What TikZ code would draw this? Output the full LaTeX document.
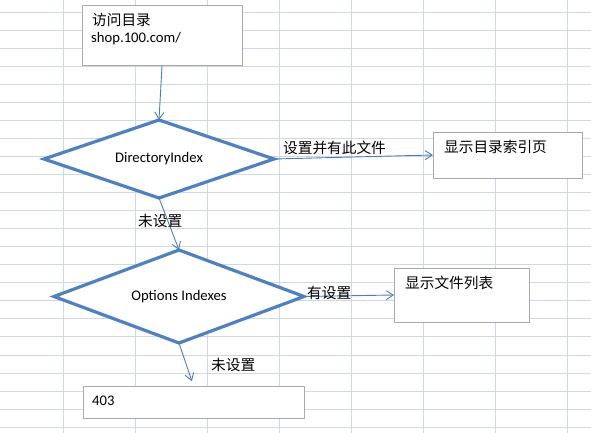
\documentclass[tikz,border=0pt]{standalone}
\usepackage{fontspec}
\setmainfont{Carlito}
\newfontfamily\cjk{Noto Sans CJK SC}
\usetikzlibrary{shapes.geometric, arrows.meta, positioning}
\definecolor{Rejilla}{RGB}{208,215,229}
\definecolor{Azulflujo}{RGB}{79,129,189}
\definecolor{Azulflecha}{RGB}{74,126,187}
\definecolor{Grisborde}{RGB}{170,170,170}

\begin{document}
\begin{tikzpicture}[x=1pt, y=-1pt,
  caja/.style={rectangle, draw=Grisborde, line width=1pt, fill=white,
    inner sep=0pt, outer sep=0pt},
  rombo/.style={diamond, aspect=3, draw=Azulflujo, line width=3.2pt, fill=white,
    inner sep=0pt, outer sep=0pt, font=\fontsize{14.67}{17}\selectfont},
  txt/.style={anchor=base west, inner sep=0pt,
    font=\fontsize{14.67}{17}\selectfont},
  etq/.style={anchor=base west, inner sep=0pt,
    font=\fontsize{14.67}{17}\selectfont\cjk},
  fl/.style={-{Straight Barb[length=7pt, width=9pt]}, Azulflecha, line width=0.9pt}
]

%% ── Hoja de fondo ────────────────────────────────────────────────────
\fill[white] (0,0) rectangle (591,433);
\useasboundingbox (0,0) rectangle (591,433);
\foreach \gx in {63,135,...,567}
  \draw[Rejilla, line width=0.9pt] (\gx,0) -- (\gx,433);
\foreach \k in {0,...,23}
  \draw[Rejilla, line width=0.9pt] (0,{12+18.05*\k}) -- (591,{12+18.05*\k});

%% ── Entrada (fila 1) ─────────────────────────────────────────────────
\node[caja, minimum width=160pt, minimum height=60pt] (ACC) at (162,36) {};
\node[etq] (ACCa) at (92,25.5) {访问目录};
\node[txt] (ACCb) at (91,42.5) {shop.100.com/};

%% ── DirectoryIndex (fila 2) ──────────────────────────────────────────
\node[rombo, minimum width=230pt, minimum height=78pt] (DI) at (159,159)
  {DirectoryIndex};
\node[caja, minimum width=149pt, minimum height=46pt] (PI) at (507.5,155) {};
\node[etq] (PIa) at (444,152.5) {显示目录索引页};

\draw[fl] (ACC.south) -- (DI.north);
\draw[fl] (DI.east) -- (PI.west);
\node[etq] (EDI) at (283,153.5) {设置并有此文件};

%% ── Options Indexes (fila 3) ─────────────────────────────────────────
\node[rombo, minimum width=250pt, minimum height=93pt] (OI) at (179,296.5)
  {Options Indexes};
\node[caja, minimum width=135pt, minimum height=54pt] (LF) at (461.5,295) {};
\node[etq] (LFa) at (405,288) {显示文件列表};

\draw[fl] (DI.south) -- (OI.north);
\node[etq] (EDIn) at (138,226) {未设置};
\draw[fl] (OI.east) -- (LF.west);
\node[etq] (EOI) at (307,298.5) {有设置};

%% ── Salida 403 (fila 4) ──────────────────────────────────────────────
\node[caja, minimum width=221pt, minimum height=32pt] (F403) at (193.5,402) {};
\node[txt] (F403a) at (92,405) {403};

\draw[fl, shorten >=5pt] (OI.south) -- (F403.north);
\node[etq] (EOIn) at (211,370) {未设置};

\end{tikzpicture}
\end{document}
